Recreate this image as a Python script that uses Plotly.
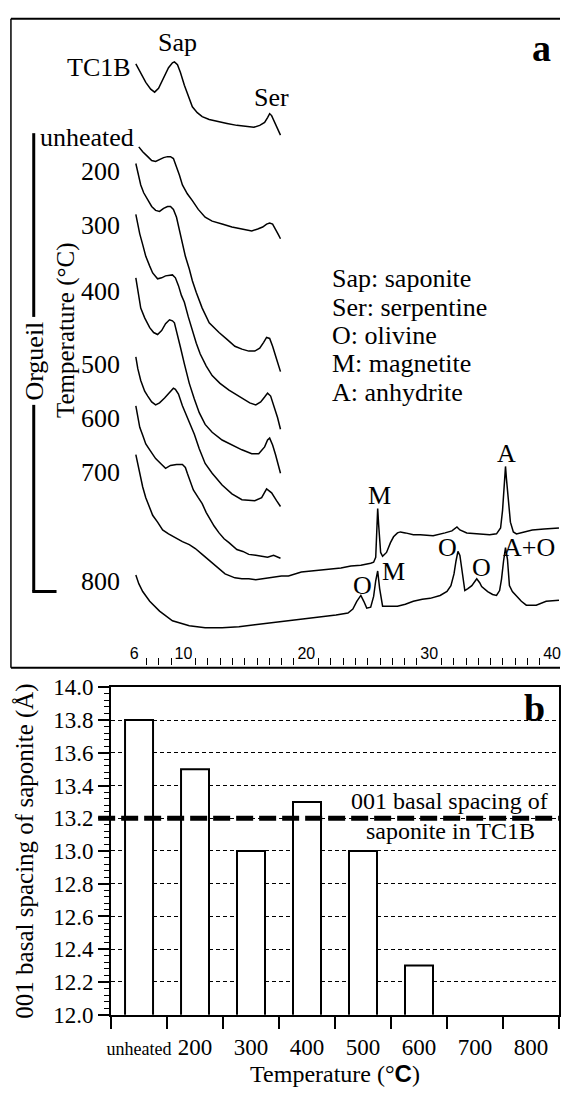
import plotly.graph_objects as go

W, H = 561, 1100
SERIF = "Liberation Serif"
SANS = "Liberation Sans"

# ---------------- Panel a: XRD patterns (2-theta, degrees; intensity in arbitrary stacked units) -------------
tc1b_2theta = [6.13, 6.53, 6.94, 7.34, 7.66, 7.98, 8.39, 8.79, 9.11, 9.27, 9.52, 9.76, 10.08, 10.40, 10.73,
               11.13, 11.53, 12.10, 12.74, 13.55, 14.35, 15.16, 15.73, 16.21, 16.61, 16.85, 17.02, 17.18,
               17.42, 17.66, 17.90]
tc1b_int = [618, 609, 599, 592, 589, 593, 603, 614, 619, 620, 617, 609, 596, 584, 574, 568, 564, 561, 559,
            557, 555, 554, 553, 555, 558, 563, 567, 565, 558, 552, 545]

unheated_2theta = [6.37, 6.69, 7.10, 7.42, 7.74, 8.06, 8.39, 8.71, 8.95, 9.19, 9.44, 9.68, 9.92, 10.32, 10.73,
                   11.21, 11.77, 12.34, 13.15, 13.95, 14.76, 15.56, 16.05, 16.45, 16.77, 17.02, 17.26, 17.50,
                   17.74, 17.90]
unheated_int = [533, 528, 523, 519, 518, 520, 522, 523, 523, 521, 513, 504, 494, 485, 478, 469, 461, 457, 454,
                451, 449, 447, 449, 451, 454, 455, 454, 449, 443, 439]

t200_2theta = [6.13, 6.37, 6.53, 6.77, 7.10, 7.42, 7.74, 8.06, 8.39, 8.71, 8.95, 9.19, 9.44, 9.68, 9.92, 10.16,
               10.48, 10.73, 11.05, 11.53, 12.10, 12.90, 13.55, 14.19, 14.76, 15.32, 15.81, 16.21, 16.53,
               16.77, 17.02, 17.26, 17.58, 17.90]
t200_int = [516, 504, 494, 486, 479, 472, 468, 467, 470, 472, 472, 469, 461, 448, 435, 421, 408, 396, 384, 368,
            353, 343, 336, 329, 326, 324, 324, 327, 333, 338, 337, 329, 316, 303]

t300_2theta = [6.13, 6.29, 6.45, 6.69, 6.94, 7.26, 7.50, 7.90, 8.23, 8.55, 8.87, 9.11, 9.35, 9.60, 9.84, 10.08,
               10.40, 10.73, 11.05, 11.37, 11.85, 12.34, 12.98, 13.71, 14.35, 14.92, 15.40, 15.89, 16.29,
               16.61, 16.85, 17.10, 17.34, 17.66, 17.90]
t300_int = [464, 454, 444, 433, 421, 411, 404, 398, 399, 401, 402, 402, 399, 391, 381, 374, 359, 344, 332, 321,
            309, 299, 291, 284, 279, 274, 271, 269, 272, 277, 281, 278, 269, 256, 244]

t400_2theta = [6.13, 6.29, 6.53, 6.85, 7.26, 7.58, 7.90, 8.23, 8.55, 8.87, 9.11, 9.27, 9.52, 9.76, 10.08, 10.48,
               10.89, 11.29, 11.77, 12.34, 13.15, 13.95, 14.76, 15.56, 16.13, 16.61, 16.85, 17.02, 17.26,
               17.50, 17.90]
t400_int = [399, 388, 368, 358, 348, 343, 341, 345, 352, 356, 355, 353, 341, 328, 311, 291, 275, 261, 249, 241,
            233, 228, 223, 219, 219, 226, 233, 235, 228, 218, 199]

t500_2theta = [6.13, 6.29, 6.53, 6.85, 7.10, 7.42, 7.74, 8.06, 8.47, 8.87, 9.19, 9.35, 9.60, 9.92, 10.24, 10.56,
               10.89, 11.29, 11.77, 12.34, 13.15, 13.95, 14.76, 15.81, 16.37, 16.77, 17.18, 17.58, 17.90]
t500_int = [318, 306, 294, 283, 278, 272, 269, 271, 276, 282, 286, 285, 280, 268, 258, 249, 239, 224, 209, 199,
            187, 178, 172, 171, 174, 183, 179, 171, 165]

t600_2theta = [6.13, 6.29, 6.45, 6.69, 6.94, 7.26, 7.74, 8.15, 8.55, 8.95, 9.44, 9.92, 10.16, 10.32, 10.56, 10.81,
               11.21, 11.53, 11.85, 12.10, 12.50, 12.90, 13.31, 13.71, 14.35, 14.84, 15.32, 15.89, 16.37,
               16.85, 17.34, 17.90]
t600_int = [268, 256, 246, 238, 229, 223, 214, 209, 204, 207, 208, 208, 205, 199, 191, 182, 174, 168, 159, 153,
            145, 138, 132, 128, 121, 119, 116, 115, 114, 113, 115, 112]

t700_2theta = [6.13, 6.29, 6.45, 6.69, 6.94, 7.26, 7.50, 7.90, 8.31, 8.79, 9.35, 9.92, 10.48, 10.97, 11.53, 12.10,
               12.58, 12.98, 13.39, 13.79, 14.19, 14.76, 15.32, 15.89, 16.37, 16.94, 17.42, 17.98, 18.55,
               19.11, 19.60, 20.40, 21.21, 22.02, 22.82, 23.63, 24.44, 25.24, 25.48, 25.65, 25.73, 25.81,
               25.89, 26.05, 26.21, 26.53, 26.85, 27.10, 27.42, 27.66, 28.06, 28.71, 29.27, 30.32, 31.29,
               31.85, 32.26, 32.50, 33.06, 34.11, 34.92, 35.48, 35.81, 35.97, 36.13, 36.21, 36.29, 36.45,
               36.61, 36.85, 37.10, 37.74, 38.39, 39.35, 40.56]
t700_int = [218, 208, 198, 185, 174, 164, 156, 149, 141, 137, 133, 129, 126, 122, 116, 110, 104, 100, 96, 94,
            92, 91, 91, 90, 91, 92, 93, 94, 94, 96, 98, 99, 100, 101, 102, 104, 105, 107, 108, 113, 141, 163,
            146, 118, 114, 118, 128, 134, 138, 139, 138, 136, 136, 135, 138, 140, 144, 141, 138, 137, 136,
            137, 143, 161, 191, 206, 193, 166, 149, 139, 137, 139, 141, 142, 143]

t800_2theta = [6.13, 6.37, 6.69, 7.26, 8.06, 9.11, 10.48, 11.77, 13.15, 14.52, 15.81, 17.18, 18.55, 19.84, 21.21,
               22.42, 23.39, 23.79, 24.11, 24.44, 24.68, 24.92, 25.24, 25.48, 25.65, 25.81, 25.97, 26.21,
               26.85, 27.42, 28.06, 28.71, 29.44, 30.08, 30.89, 31.45, 31.77, 32.02, 32.18, 32.34, 32.50,
               32.66, 32.90, 33.15, 33.47, 33.87, 34.11, 34.27, 34.76, 35.16, 35.48, 35.73, 35.89, 36.05,
               36.21, 36.37, 36.53, 36.77, 37.10, 37.50, 37.90, 38.71, 39.52, 40.56]
t800_int = [95, 86, 78, 68, 58, 48, 43, 41, 41, 42, 44, 46, 48, 50, 52, 54, 56, 60, 68, 74, 68, 61, 62, 73, 89,
            99, 81, 63, 63, 63, 65, 68, 70, 71, 74, 78, 84, 96, 109, 119, 115, 101, 79, 81, 84, 91, 87, 83,
            78, 75, 74, 79, 91, 109, 123, 111, 84, 78, 73, 68, 64, 64, 68, 69]

pattern_names = ["TC1B", "unheated", "200", "300", "400", "500", "600", "700", "800"]
pattern_2theta = [tc1b_2theta, unheated_2theta, t200_2theta, t300_2theta, t400_2theta, t500_2theta,
                  t600_2theta, t700_2theta, t800_2theta]
pattern_int = [tc1b_int, unheated_int, t200_int, t300_int, t400_int, t500_int, t600_int, t700_int, t800_int]

axis_a_labels = [6, 10, 20, 30, 40]

# ---------------- Panel b: basal spacing ----------------
temperatures = ["unheated", "200", "300", "400", "500", "600", "700", "800"]
spacing = [13.8, 13.5, 13.0, 13.3, 13.0, 12.3, None, None]
tc1b_spacing = 13.2

fig = go.Figure()

for name, xs, ys in zip(pattern_names, pattern_2theta, pattern_int):
    fig.add_trace(go.Scatter(x=xs, y=ys, mode="lines", name=name, showlegend=False,
                             line=dict(color="black", width=1.5), xaxis="x", yaxis="y"))

fig.add_trace(go.Bar(x=temperatures, y=spacing, width=0.5, xaxis="x2", yaxis="y2", showlegend=False,
                     marker=dict(color="white", line=dict(color="black", width=2))))


def P(x, y):
    return x / W, 1 - y / H


anns = []


def ann(text, x, y, size=26, xanchor="center", yanchor="middle", family=SERIF, angle=0):
    px_, py_ = P(x, y)
    anns.append(dict(text=text, x=px_, y=py_, xref="paper", yref="paper", showarrow=False,
                     xanchor=xanchor, yanchor=yanchor, textangle=angle,
                     font=dict(family=family, size=size, color="black")))


# sample labels (panel a)
sample_label_y = [57, 128, 163, 218, 286, 361, 416, 471, 583]
sample_label_x = [130, 133, 119, 119, 119, 119, 119, 119, 119]
for name, lx, ly in zip(pattern_names, sample_label_x, sample_label_y):
    ann(name, lx, ly, xanchor="right")

ann("Sap", 175, 31)
ann("Ser", 270, 88)
ann("<b>a</b>", 542, 37, size=38)
ann("M", 379, 495)
ann("A", 507, 452)
ann("O", 362, 587)
ann("M", 393, 572)
ann("O", 447, 548)
ann("O", 482, 568)
ann("A+O", 530, 548)

legend_lines = ["Sap: saponite", "Ser: serpentine", "O: olivine", "M: magnetite", "A: anhydrite"]
for i, t in enumerate(legend_lines):
    ann(t, 329, 273 + 29 * i, xanchor="left")

ann("Orgueil", 31, 357, angle=-90)
ann("Temperature (°C)", 62, 325, size=25, angle=-90)

# panel b texts
ann("<b>b</b>", 535, 712, size=38)
ann("001 basal spacing of", 450, 807, size=24)
ann("saponite in TC1B", 451, 838, size=24)

shapes = []


def line_px(x0, y0, x1, y1, width=2):
    a0, b0 = P(x0, y0)
    a1, b1 = P(x1, y1)
    shapes.append(dict(type="line", xref="paper", yref="paper", x0=a0, y0=b0, x1=a1, y1=b1,
                       line=dict(color="black", width=width)))


# frame of panel a
line_px(7, 7, 561, 7, 2)
line_px(7, 7, 7, 671, 1.5)
line_px(7, 671, 561, 671, 2)
# Orgueil bracket
line_px(30, 124, 30, 312, 3)
line_px(30, 402, 30, 593, 3)
line_px(28.5, 593, 53, 593, 3)

# TC1B reference line in panel b
shapes.append(dict(type="line", xref="paper", yref="y2", x0=95 / W, x1=1, y0=tc1b_spacing, y1=tc1b_spacing,
                   layer="above", line=dict(color="black", width=5, dash="17px,6px")))

minor_a = [v for v in range(6, 41) if v not in axis_a_labels]

fig.update_layout(
    width=W, height=H, autosize=False, margin=dict(l=0, r=0, t=0, b=0),
    paper_bgcolor="white", plot_bgcolor="rgba(0,0,0,0)", showlegend=False,
    font=dict(family=SERIF, color="black"),
    xaxis=dict(domain=[0, 1], range=[-4.597, 40.645], anchor="y", showline=False, showgrid=False,
               zeroline=False, tickmode="array", tickvals=axis_a_labels,
               ticktext=[str(v) for v in axis_a_labels], ticks="", ticklabelposition="inside",
               ticklabeloverflow="allow",
               tickfont=dict(family=SANS, size=16, color="black"),
               minor=dict(tickmode="array", tickvals=minor_a, ticks="inside", ticklen=7,
                          tickcolor="black", tickwidth=1)),
    yaxis=dict(domain=[1 - 668 / H, 1 - 7 / H], range=[3, 664], anchor="x", visible=False),
    xaxis2=dict(domain=[108 / W, 560 / W], anchor="y2", type="category", categoryorder="array",
                categoryarray=temperatures, range=[-0.5, 7.5], tickson="boundaries",
                tickmode="array", tickvals=temperatures, tickangle=0,
                ticktext=['<span style="font-size:18px">unheated</span>'] + temperatures[1:],
                ticks="outside", ticklen=12, tickwidth=1.5, tickcolor="black",
                showline=True, linewidth=2, linecolor="black", mirror=True, showgrid=False,
                tickfont=dict(family=SERIF, size=23, color="black"), ticklabelstandoff=11,
                title=dict(text='Temperature (°<b><span style="font-family:Liberation Sans">C</span></b>)',
                           font=dict(family=SERIF, size=24, color="black"), standoff=3)),
    yaxis2=dict(domain=[1 - 1026 / H, 1 - 691 / H], anchor="x2", range=[12, 14], tick0=12, dtick=0.2,
                tickformat=".1f", ticks="outside", ticklen=11, tickwidth=1.5, tickcolor="black",
                minor=dict(dtick=0.04, tick0=12, ticks="outside", ticklen=5, tickcolor="black",
                           tickwidth=1, showgrid=False),
                showline=True, linewidth=2, linecolor="black", mirror=True, zeroline=False,
                showgrid=True, gridcolor="black", gridwidth=1, griddash="4px,3px",
                tickfont=dict(family=SERIF, size=23, color="black"),
                title=dict(text="001 basal spacing of saponite (Å)",
                           font=dict(family=SERIF, size=25, color="black"), standoff=12)),
    annotations=anns, shapes=shapes,
)

fig.write_html("out.html", config={"displayModeBar": False},
               post_script="document.body.style.margin='0';document.body.style.overflow='hidden';")
